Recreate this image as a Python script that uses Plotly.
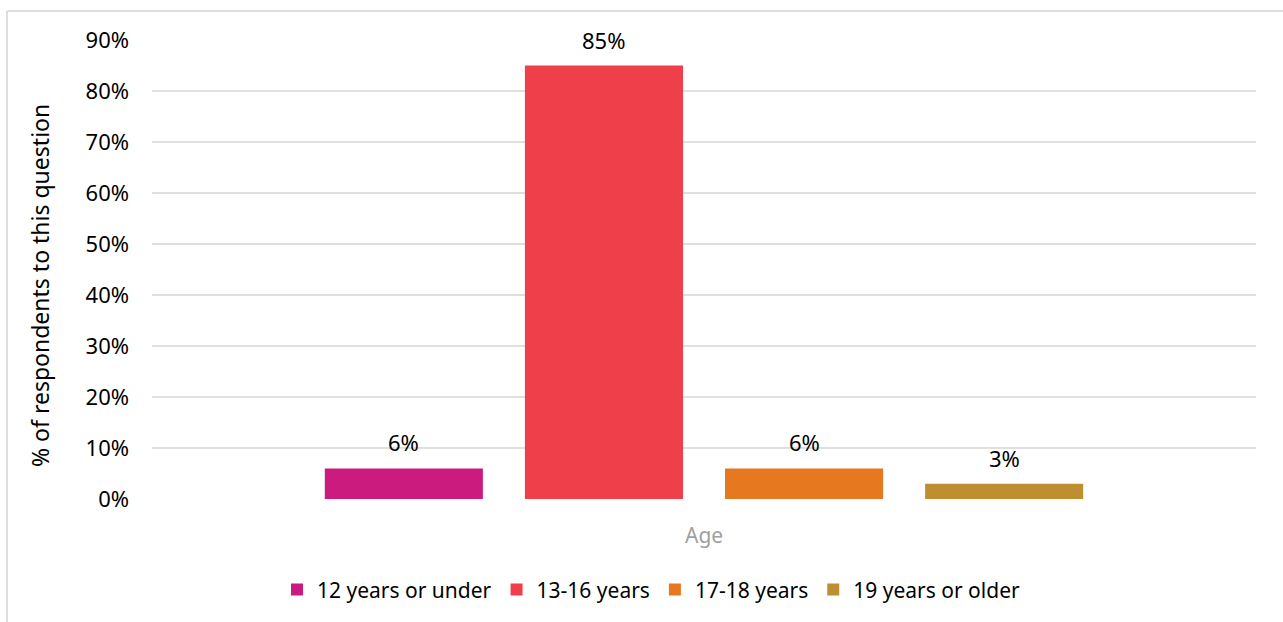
import plotly.graph_objects as go

# Survey age distribution
category = ["Age"]
series_names = ["12 years or under", "13-16 years", "17-18 years", "19 years or older"]
series_values = [6, 85, 6, 3]
series_colors = ["#CB1B7E", "#EE3F4A", "#E67920", "#BD8F31"]
y_ticks = [0, 10, 20, 30, 40, 50, 60, 70, 80, 90]
y_tick_labels = [f"{v}%" for v in y_ticks]

FONT = "Noto Sans"
BARGAP = 0.275
GROUPGAP = 0.21

fig = go.Figure()
for name, val, col in zip(series_names, series_values, series_colors):
    fig.add_trace(go.Bar(
        x=category, y=[val], name=name,
        marker=dict(color=col, line=dict(width=0)),
    ))

# value labels above each bar of the group
slot = (1 - BARGAP) / len(series_values)
labels = []
for i, val in enumerate(series_values):
    labels.append(dict(
        text=f"{val}%", xref="x", yref="y",
        x=-0.5 + BARGAP / 2 + slot * (i + 0.5), y=val,
        xanchor="center", yanchor="bottom", yshift=9, showarrow=False,
        font=dict(family=FONT, size=22, color="#000000"),
    ))

fig.update_layout(
    width=1283, height=622,
    margin=dict(l=152, r=27, t=40, b=123),
    paper_bgcolor="white", plot_bgcolor="white",
    barmode="group", bargap=BARGAP, bargroupgap=GROUPGAP,
    font=dict(family=FONT, size=21, color="#000000"),
    showlegend=True,
    legend=dict(orientation="h", x=0.452, xanchor="center", y=-0.198, yanchor="middle",
                font=dict(family=FONT, size=21, color="#000000"),
                itemwidth=30, tracegroupgap=0, traceorder="normal"),
    xaxis=dict(range=[-0.5, 0.5], showticklabels=False, showgrid=False, zeroline=False,
               showline=False, ticks=""),
    yaxis=dict(range=[0, 90], tickvals=y_ticks, ticktext=y_tick_labels,
               showgrid=True, gridcolor="#E0E0E0", gridwidth=2, zeroline=False,
               showline=False, ticks="", ticklen=0, ticklabelstandoff=22,
               tickfont=dict(family=FONT, size=22, color="#000000")),
    annotations=labels + [
        dict(text="% of respondents to this question", xref="paper", yref="paper",
             x=(40 - 152) / 1104, y=(499 - 286) / 459, textangle=-90, showarrow=False,
             xanchor="center", yanchor="middle",
             font=dict(family=FONT, size=23, color="#000000")),
        dict(text="Age", xref="paper", yref="paper",
             x=0.5, y=(499 - 535) / 459, showarrow=False,
             xanchor="center", yanchor="middle",
             font=dict(family=FONT, size=21, color="#A0A0A0")),
    ],
    shapes=[
        dict(type="line", xref="paper", yref="paper",
             x0=(7 - 152) / 1104, x1=(1290 - 152) / 1104,
             y0=(499 - 11) / 459, y1=(499 - 11) / 459,
             line=dict(color="#DDDDDD", width=2)),
        dict(type="line", xref="paper", yref="paper",
             x0=(7 - 152) / 1104, x1=(7 - 152) / 1104,
             y0=(499 - 11) / 459, y1=(499 - 630) / 459,
             line=dict(color="#DDDDDD", width=2)),
    ],
)

fig.write_html("out.html")
